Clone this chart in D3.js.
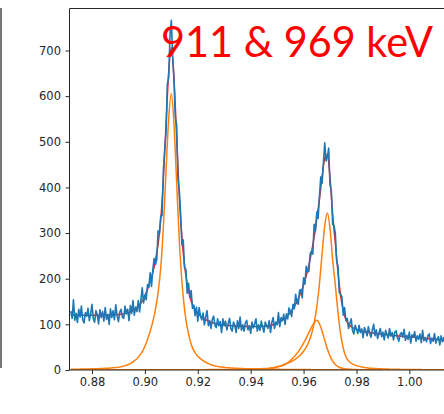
<!DOCTYPE html>
<html>
<head>
<meta charset="utf-8">
<script src="https://cdn.jsdelivr.net/npm/d3@7"></script>
<style>
  body { margin: 0; background: #fff; }
  svg { display: block; }
  .tick text { font-family: "DejaVu Sans", sans-serif; font-size: 11.5px; fill: #262626; }
  .tick line { stroke: #262626; }
</style>
</head>
<body>
<svg id="spectrum" width="444" height="414"></svg>
<script>
const width = 444, height = 414;

// energy grid of the fit curves (MeV) and of the measured spectrum
const fitStart = 0.872, fitStep = 0.001;
const countStart = 0.872, countStep = 0.0005;

// total fit (background + three peaks)
const fitTotal = [
  119.8,119.8,119.8,119.7,119.8,119.8,119.8,119.8,119.8,119.8,
  119.8,119.8,119.8,119.9,120.0,120.1,120.5,121.0,121.5,122.2,
  122.9,124.2,126.1,128.7,132.4,136.7,142.9,150.9,162.5,176.7,
  193.8,214.0,240.2,276.4,329.2,419.1,538.9,652.7,706.6,638.7,
  510.7,382.7,290.7,228.8,189.4,162.0,143.2,131.9,124.2,118.6,
  114.2,110.5,107.2,104.7,102.7,101.4,100.0,99.0,98.3,97.7,
  97.3,96.7,96.5,96.2,95.9,95.8,95.5,95.4,95.3,95.2,
  95.2,95.2,95.4,95.7,96.3,97.3,98.6,100.4,102.6,105.7,
  109.3,113.7,119.2,126.0,134.7,144.3,156.3,170.2,186.8,206.3,
  229.9,258.3,291.8,331.8,374.3,423.1,463.7,471.3,421.1,341.0,
  278.2,214.6,163.7,130.8,110.7,101.0,95.1,91.6,89.1,87.0,
  85.1,83.8,82.8,81.8,81.2,80.4,79.7,79.1,78.6,77.9,
  77.2,76.5,75.9,75.3,74.7,74.2,73.6,73.2,72.6,72.0,
  71.5,70.8,70.3,69.7,69.1,68.6,68.0,67.5,66.9,66.4,
  65.9,65.4,64.8
];

// 911 keV peak
const peak911 = [
  1.6,1.7,1.8,1.9,2.0,2.1,2.2,2.4,2.5,2.7,
  2.9,3.1,3.3,3.6,3.9,4.2,4.8,5.5,6.1,7.3,
  8.5,10.3,12.7,15.8,20,24.8,31.5,40,52,67,
  85,106,133,170,224,315,436,551,606,539,
  412,285,194,133,94,67,48.5,37.6,30.3,24.8,
  20.6,17,13.9,11.5,9.7,8.5,7.3,6.4,5.8,5.2,
  4.8,4.3,4.0,3.7,3.4,3.2,2.9,2.7,2.6,2.4,
  2.2,2.1,2.0,1.9,1.8,1.7,1.6,1.5,1.4,1.4,
  1.3,1.2,1.2,1.1,1.1,1.0,1.0,1.0,0.9,0.9,
  0.9,0.8,0.8,0.8,0.7,0.7,0.7,0.7,0.6,0.6,
  0.6,0.6,0.6,0.5,0.5,0.5,0.5,0.5,0.5,0.5,
  0.4,0.4,0.4,0.4,0.4,0.4,0.4,0.4,0.4,0.4,
  0.3,0.3,0.3,0.3,0.3,0.3,0.3,0.3,0.3,0.3,
  0.3,0.3,0.3,0.3,0.2,0.2,0.2,0.2,0.2,0.2,
  0.2,0.2,0.2
];

// 969 keV peak
const peak969 = [
  0.18,0.19,0.19,0.19,0.2,0.2,0.21,0.21,0.22,0.22,
  0.23,0.23,0.24,0.24,0.25,0.26,0.26,0.27,0.28,0.28,
  0.29,0.3,0.31,0.31,0.32,0.33,0.34,0.35,0.36,0.37,
  0.38,0.39,0.41,0.42,0.43,0.45,0.46,0.48,0.49,0.51,
  0.53,0.55,0.57,0.59,0.61,0.64,0.66,0.69,0.72,0.75,
  0.78,0.81,0.85,0.89,0.93,0.98,1.02,1.08,1.13,1.19,
  1.26,1.3,1.4,1.5,1.6,1.7,1.8,1.9,2.0,2.2,
  2.4,2.5,2.75,3.1,3.4,4.1,4.8,5.8,6.9,8.3,
  10,12,14.4,17.2,20.6,24,28.6,34,41,50,
  62,79,103,138,189,255,316,344,310,241,
  186,127,79,48,29,20,14.8,11.7,9.6,7.9,
  6.5,5.5,4.8,4.1,3.8,3.3,2.9,2.6,2.4,2.1,
  2.0,1.8,1.7,1.5,1.4,1.3,1.2,1.2,1.1,1.0,
  1.0,0.9,0.9,0.8,0.8,0.8,0.7,0.7,0.6,0.6,
  0.6,0.6,0.5
];

// small peak on the low side of 969 keV
const peak965 = [
  0.05,0.05,0.05,0.05,0.05,0.06,0.06,0.06,0.06,0.06,
  0.06,0.06,0.07,0.07,0.07,0.07,0.07,0.07,0.08,0.08,
  0.08,0.08,0.08,0.08,0.09,0.09,0.09,0.09,0.1,0.1,
  0.1,0.1,0.11,0.11,0.12,0.12,0.12,0.13,0.14,0.14,
  0.15,0.16,0.17,0.17,0.18,0.19,0.2,0.21,0.22,0.23,
  0.24,0.25,0.26,0.27,0.29,0.3,0.32,0.34,0.36,0.38,
  0.4,0.43,0.46,0.49,0.52,0.56,0.6,0.65,0.7,0.8,
  1.0,1.2,1.4,1.7,2.3,2.9,3.8,4.9,6.3,8.2,
  10.4,13.1,16.4,20.7,26.2,32.7,40.3,49,58.9,69.8,
  81.8,93.7,103.6,109,101.4,85,65.4,45.8,30.5,19.6,
  12,7.6,4.9,3.3,2.4,1.85,1.4,1.2,1.0,0.8,
  0.7,0.6,0.55,0.5,0.45,0.4,0.4,0.35,0.3,0.3,
  0.3,0.26,0.24,0.22,0.2,0.2,0.2,0.2,0.16,0.15,
  0.15,0.14,0.13,0.12,0.1,0.1,0.1,0.1,0.1,0.1,
  0.1,0.1,0.1
];

// measured counts
const counts = [
  129,113,154,109,124,104,133,116,140,110,
  103,126,118,135,108,123,144,112,105,130,
  121,101,132,115,128,107,137,111,122,100,
  134,115,130,110,143,119,106,127,133,116,
  113,140,123,133,108,141,124,152,120,138,
  128,152,127,154,180,147,164,154,187,181,
  213,183,220,244,231,242,305,299,338,338,
  437,483,521,627,640,734,766,688,636,553,
  538,417,396,342,274,285,223,221,168,190,
  159,174,135,142,119,138,107,137,119,110,
  125,99,116,130,97,108,91,111,118,98,
  93,112,97,106,82,112,97,107,88,102,
  113,91,85,105,98,82,108,91,116,87,
  99,85,103,109,88,97,80,105,92,101,
  112,85,99,87,107,94,83,105,97,91,
  108,82,104,115,91,105,99,126,95,115,
  108,122,100,123,112,136,128,117,144,134,
  166,147,144,175,175,158,202,188,227,215,
  216,255,260,254,319,305,346,332,380,423,
  409,454,498,458,467,486,405,393,319,317,
  300,239,228,170,166,160,120,137,108,113,
  91,102,112,87,79,98,90,80,98,82,
  90,71,93,86,75,95,80,72,88,100,
  75,88,69,81,91,73,83,66,87,78,
  70,91,74,82,66,83,86,71,63,78,
  82,72,89,65,76,67,83,59,77,73,
  84,63,75,67,79,60,87,64,71,62,
  75,79,58,70,63,80,59,68,73,55,
  75,62,71,57,67
];

const xTicks = [0.88, 0.90, 0.92, 0.94, 0.96, 0.98, 1.00];
const yTicks = [0, 100, 200, 300, 400, 500, 600, 700];
const title = "911 & 969 keV";

const svg = d3.select("#spectrum");

const x = d3.scaleLinear().domain([0.8715, 1.0185]).range([69.5, 458.3]);
const y = d3.scaleLinear().domain([0, 792]).range([370, 8.5]);

svg.append("clipPath").attr("id", "plot-area")
  .append("rect")
  .attr("x", x.range()[0]).attr("y", y.range()[1])
  .attr("width", x.range()[1] - x.range()[0])
  .attr("height", y.range()[0] - y.range()[1]);

// edge of the neighbouring panel
svg.append("line")
  .attr("x1", 1).attr("x2", 1).attr("y1", 8).attr("y2", 368)
  .attr("stroke", "#4a4a4a").attr("stroke-width", 1.5);

const plot = svg.append("g").attr("clip-path", "url(#plot-area)");

const fitLine = d3.line()
  .x((d, i) => x(fitStart + i * fitStep))
  .y(d => y(d))
  .curve(d3.curveMonotoneX);

const countLine = d3.line()
  .x((d, i) => x(countStart + i * countStep))
  .y(d => y(d));

plot.append("path").datum(fitTotal)
  .attr("fill", "none").attr("stroke", "#d62728").attr("stroke-width", 1.5)
  .attr("d", fitLine);

plot.append("path").datum(counts)
  .attr("fill", "none").attr("stroke", "#1f77b4").attr("stroke-width", 1.6)
  .attr("stroke-linejoin", "round")
  .attr("d", countLine);

[peak911, peak969, peak965].forEach(p => {
  plot.append("path").datum(p)
    .attr("fill", "none").attr("stroke", "#ff7f0e").attr("stroke-width", 1.5)
    .attr("d", fitLine);
});

// axes
svg.append("g")
  .attr("transform", `translate(0,${y(0)})`)
  .call(d3.axisBottom(x).tickValues(xTicks).tickFormat(d3.format(".2f")).tickSize(4).tickPadding(4))
  .call(g => g.select(".domain").remove());

svg.append("g")
  .attr("transform", `translate(${x.range()[0]},0)`)
  .call(d3.axisLeft(y).tickValues(yTicks).tickSize(4).tickPadding(4.5))
  .call(g => g.select(".domain").remove());

// spines
const [x0, x1] = x.range(), [yb, yt] = y.range();
svg.append("path")
  .attr("d", `M${x1},${yt}H${x0}V${yb}H${x1}`)
  .attr("fill", "none").attr("stroke", "#262626").attr("stroke-width", 1);

svg.append("text")
  .attr("x", 161).attr("y", 57)
  .attr("textLength", 272).attr("lengthAdjust", "spacingAndGlyphs")
  .style("font-family", "Lato, 'Open Sans', sans-serif")
  .style("font-size", "42px")
  .style("fill", "#ff0000")
  .text(title);
</script>
</body>
</html>
